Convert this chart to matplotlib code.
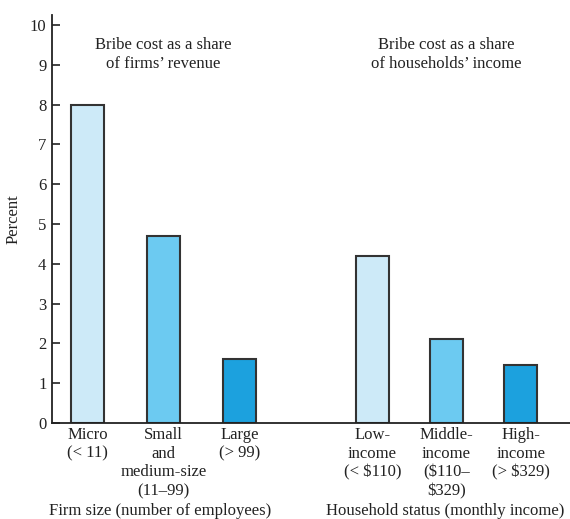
import matplotlib.pyplot as plt
import numpy as np

# bribe cost data (percent)
firm_labels = ['Micro\n(< 11)', 'Small\nand\nmedium-size\n(11\u201399)', 'Large\n(> 99)']
firm_values = [8.0, 4.7, 1.6]
house_labels = ['Low-\nincome\n(< $110)', 'Middle-\nincome\n($110\u2013\n$329)', 'High-\nincome\n(> $329)']
house_values = [4.2, 2.1, 1.45]

colors = ['#cdeaf8', '#6ccaf1', '#1ca1de']

plt.rcParams['font.family'] = ['Liberation Serif', 'DejaVu Serif']
plt.rcParams['text.parse_math'] = False


def main():
    fig = plt.figure(figsize=(5.7, 5.19), dpi=100)
    ax = fig.add_axes([0.0912, 0.185, 0.9088, 0.786])

    x_firm = np.array([0, 1, 2])
    x_house = np.array([3.75, 4.72, 5.7])
    w = 0.43

    ax.bar(x_firm, firm_values, width=w, color=colors, edgecolor='#333333', linewidth=1.5)
    ax.bar(x_house, house_values, width=w, color=colors, edgecolor='#333333', linewidth=1.5)

    ax.set_xlim(-0.47, 6.35)
    ax.set_ylim(0, 10.25)
    ax.set_yticks(range(0, 11))
    ax.tick_params(axis='y', direction='in', length=6, width=1.2, labelsize=12, pad=4, colors='#222222')
    ax.set_xticks(np.concatenate([x_firm, x_house]))
    ax.set_xticklabels(firm_labels + house_labels, fontsize=12, linespacing=1.22, color='#222222')
    ax.tick_params(axis='x', length=0, pad=3)

    for s in ['top', 'right']:
        ax.spines[s].set_visible(False)
    for s in ['left', 'bottom']:
        ax.spines[s].set_linewidth(1.3)
        ax.spines[s].set_color('#222222')

    ax.set_ylabel('Percent', fontsize=12, labelpad=6, color='#222222')

    ax.text(1.0, 9.27, 'Bribe cost as a share\nof firms\u2019 revenue', ha='center', va='center',
            fontsize=12, linespacing=1.25, color='#222222')
    ax.text(4.72, 9.27, 'Bribe cost as a share\nof households\u2019 income', ha='center', va='center',
            fontsize=12, linespacing=1.25, color='#222222')

    fig.text(160 / 570, 1 - 511 / 519, 'Firm size (number of employees)', ha='center', va='center',
             fontsize=12, color='#222222')
    fig.text(445 / 570, 1 - 511 / 519, 'Household status (monthly income)', ha='center', va='center',
             fontsize=12, color='#222222')

    fig.savefig('out.png', dpi=100)


if __name__ == "__main__":
    main()
